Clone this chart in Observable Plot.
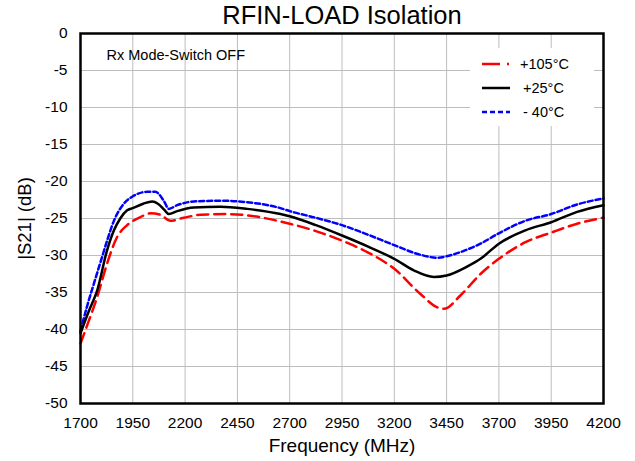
<!DOCTYPE html>
<html><head><meta charset="utf-8">
<script src="https://cdn.jsdelivr.net/npm/d3@7"></script>
<script src="https://cdn.jsdelivr.net/npm/@observablehq/plot@0.6"></script>
<style>
body{margin:0;background:#fff;font-family:"Liberation Sans",Arial,sans-serif;}
#wrap{position:relative;width:635px;height:461px;}
#legend{position:absolute;left:470px;top:48px;width:124px;height:78px;background:#fff;font-size:14.5px;color:#000;}
#legend .row{position:absolute;left:0;height:20px;}
#legend svg{position:absolute;left:10px;top:0;}
#legend span{position:absolute;white-space:nowrap;top:0px;}
</style></head>
<body><div id="wrap"></div>
<script>
const xTicks = [1700,1950,2200,2450,2700,2950,3200,3450,3700,3950,4200];
const yTicks = [0,-5,-10,-15,-20,-25,-30,-35,-40,-45,-50];

const freqHot = [1700,1740,1780,1827,1875,1923,1987,2035,2082,2130,2194,2274,2401,2529,2656,2700,2825,2950,3075,3200,3325,3405,3437,3516,3612,3700,3827,3950,4074,4200];
const s21Hot  = [-41.9,-38.8,-35.6,-31.1,-27.5,-25.9,-24.8,-24.3,-24.5,-25.3,-24.9,-24.5,-24.4,-24.7,-25.4,-25.7,-26.7,-28.0,-29.6,-31.8,-35.2,-37.0,-37.2,-35.4,-32.5,-30.45,-28.2,-26.9,-25.7,-24.9];

const freqRoom = [1700,1740,1780,1827,1860,1890,1923,1950,2000,2043,2070,2100,2122,2162,2242,2369,2497,2656,2700,2825,2950,3075,3200,3293,3389,3450,3548,3612,3700,3827,3950,4074,4200];
const s21Room  = [-40.5,-37.5,-34.7,-29.3,-26.6,-25.0,-23.9,-23.6,-23.0,-22.7,-23.0,-23.8,-24.4,-24.0,-23.5,-23.4,-23.7,-24.4,-24.7,-25.9,-27.3,-28.8,-30.45,-32.0,-32.9,-32.7,-31.5,-30.45,-28.4,-26.6,-25.5,-24.1,-23.2];

const freqCold = [1700,1730,1764,1800,1827,1860,1907,1950,2019,2058,2098,2122,2162,2242,2369,2497,2656,2700,2825,2950,3075,3200,3325,3405,3450,3530,3612,3700,3827,3950,4074,4200];
const s21Cold  = [-40.2,-37.0,-33.8,-30.5,-28.0,-25.3,-23.0,-22.0,-21.4,-21.4,-22.6,-23.7,-23.2,-22.7,-22.6,-22.8,-23.6,-24.0,-24.9,-25.9,-27.2,-28.6,-29.9,-30.3,-30.1,-29.4,-28.4,-27.0,-25.3,-24.4,-23.1,-22.3];

const seriesNames = ["+105°C","+25°C","- 40°C"];
const seriesColors = ["#ff0000","#000000","#0000ff"];
const seriesDash = ["11,6","none","5,3"];

const toRows = (fs, vs) => fs.map((f,i)=>({f, v: vs[i]}));
const hot = toRows(freqHot, s21Hot), room = toRows(freqRoom, s21Room), cold = toRows(freqCold, s21Cold);

const chart = Plot.plot({
  width: 635, height: 461,
  marginLeft: 80, marginRight: 32, marginTop: 33, marginBottom: 58,
  style: {fontFamily: '"Liberation Sans", Arial, sans-serif', background: "#fff", color: "#000"},
  x: {domain: [1700, 4200]},
  y: {domain: [-50, 0]},
  marks: [
    Plot.gridX(xTicks, {stroke: "#bdbdbd", strokeOpacity: 1, strokeWidth: 1}),
    Plot.gridY(yTicks, {stroke: "#bdbdbd", strokeOpacity: 1, strokeWidth: 1}),
    Plot.axisX(xTicks, {tickSize: 0, tickPadding: 13, fontSize: 15.5, label: null, tickFormat: d => String(d)}),
    Plot.axisY(yTicks, {tickSize: 0, tickPadding: 13, fontSize: 15.5, label: null, tickFormat: d => String(d)}),
    Plot.line(hot, {x: "f", y: "v", stroke: seriesColors[0], strokeWidth: 2.5, strokeDasharray: seriesDash[0], curve: "monotone-x"}),
    Plot.line(cold, {x: "f", y: "v", stroke: seriesColors[2], strokeWidth: 2.5, strokeDasharray: seriesDash[2], curve: "monotone-x"}),
    Plot.line(room, {x: "f", y: "v", stroke: seriesColors[1], strokeWidth: 2.5, curve: "monotone-x"}),
    Plot.frame({stroke: "#000", strokeWidth: 2.5}),
    Plot.text(["Rx Mode-Switch OFF"], {frameAnchor: "top-left", lineAnchor: "middle", textAnchor: "start", dx: 26, dy: 22, fontSize: 14.5}),
    Plot.text(["RFIN-LOAD Isolation"], {frameAnchor: "top", lineAnchor: "middle", textAnchor: "middle", dy: -18, fontSize: 25.5}),
    Plot.text(["Frequency (MHz)"], {frameAnchor: "bottom", lineAnchor: "middle", textAnchor: "middle", dy: 42, fontSize: 19}),
    Plot.text(["|S21| (dB)"], {frameAnchor: "left", lineAnchor: "middle", textAnchor: "middle", dx: -55, rotate: -90, fontSize: 18.5})
  ]
});
const wrap = document.getElementById("wrap");
wrap.appendChild(chart);
d3.select(chart).style("overflow","visible");

const legend = document.createElement("div");
legend.id = "legend";
const rowTops = [8, 32, 56];
const textLeft = [50, 53, 53];
seriesNames.forEach((name, i) => {
  const row = document.createElement("div");
  row.className = "row";
  row.style.top = rowTops[i] + "px";
  row.style.width = "124px";
  const dash = i === 0 ? "18,7,2,7" : seriesDash[i];
  row.innerHTML = `<svg width="30" height="20"><line x1="2" y1="8" x2="30" y2="8" stroke="${seriesColors[i]}" stroke-width="2.5" ${dash !== "none" ? `stroke-dasharray="${dash}"` : ""}/></svg><span style="left:${textLeft[i]}px">${name}</span>`;
  legend.appendChild(row);
});
wrap.appendChild(legend);
</script></body></html>
